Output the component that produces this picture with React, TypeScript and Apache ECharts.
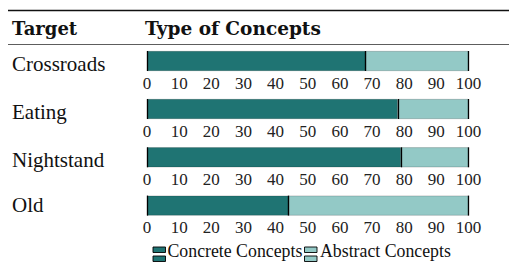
import React, { useEffect, useRef } from "react";
import * as echarts from "echarts";

const targets = ["Crossroads", "Eating", "Nightstand", "Old"];
const concrete = [68, 78, 79, 44];
const abstract = [32, 22, 21, 56];
const seriesNames = ["Concrete Concepts", "Abstract Concepts"];
const headers = ["Target", "Type of Concepts"];

const DARK = "#1f7473";
const LIGHT = "#93c9c6";
const SERIF = "Liberation Serif";

const gridTops = [51, 99, 147.3, 195.6];
const labelYs = [63.5, 111.5, 160.3, 205.3];

export default function App() {
  const ref = useRef<HTMLDivElement>(null);
  useEffect(() => {
    if (!ref.current) return;
    const chart = echarts.init(ref.current, undefined, { renderer: "svg" });
    const grids: any[] = [];
    const xAxes: any[] = [];
    const yAxes: any[] = [];
    const series: any[] = [];
    targets.forEach((t, i) => {
      grids.push({ left: 147, width: 321.5, top: gridTops[i], height: 20 });
      xAxes.push({
        gridIndex: i,
        type: "value",
        min: 0,
        max: 100,
        interval: 10,
        axisLine: { show: false },
        axisTick: { show: false },
        splitLine: { show: false },
        axisLabel: { margin: 3.5, fontSize: 17, fontFamily: SERIF, color: "#222" },
      });
      yAxes.push({
        gridIndex: i,
        type: "category",
        data: [t],
        axisLine: { show: false },
        axisTick: { show: false },
        axisLabel: { show: false },
      });
      series.push({
        type: "bar",
        name: seriesNames[0],
        xAxisIndex: i,
        yAxisIndex: i,
        stack: "s" + i,
        barWidth: "100%",
        data: [concrete[i]],
        itemStyle: { color: DARK, borderColor: "rgba(0,0,0,0.3)", borderWidth: 0.6 },
        markLine: {
          silent: true,
          symbol: "none",
          label: { show: false },
          lineStyle: { color: "#000", width: 1.3, type: "solid" },
          data: [{ xAxis: 0 }, { xAxis: concrete[i] }, { xAxis: 100 }],
        },
      });
      series.push({
        type: "bar",
        name: seriesNames[1],
        xAxisIndex: i,
        yAxisIndex: i,
        stack: "s" + i,
        barWidth: "100%",
        data: [abstract[i]],
        itemStyle: { color: LIGHT, borderColor: "rgba(0,0,0,0.3)", borderWidth: 0.6 },
      });
    });

    const graphic: any[] = [
      { type: "line", shape: { x1: 8, y1: 10.5, x2: 509, y2: 10.5 }, style: { stroke: "#111", lineWidth: 1.3 } },
      { type: "line", shape: { x1: 8, y1: 44.5, x2: 509, y2: 44.5 }, style: { stroke: "#333", lineWidth: 0.8 } },
      {
        type: "text",
        x: 12,
        y: 28,
        style: { text: headers[0], fontFamily: "DejaVu Serif", fontWeight: "bold", fontSize: 18, fill: "#111", verticalAlign: "middle" },
      },
      {
        type: "text",
        x: 145,
        y: 28,
        style: { text: headers[1], fontFamily: "DejaVu Serif", fontWeight: "bold", fontSize: 18.5, fill: "#111", verticalAlign: "middle" },
      },
    ];
    targets.forEach((t, i) => {
      graphic.push({
        type: "text",
        x: 12,
        y: labelYs[i],
        style: { text: t, fontFamily: SERIF, fontSize: 21, fill: "#111", verticalAlign: "middle" },
      });
    });
    const legendItems = [
      { x: 153, color: DARK, name: seriesNames[0], tx: 167.5 },
      { x: 304.5, color: LIGHT, name: seriesNames[1], tx: 320 },
    ];
    legendItems.forEach((it) => {
      graphic.push({ type: "rect", shape: { x: it.x, y: 247, width: 12.5, height: 5.5 }, style: { fill: it.color, stroke: "#000", lineWidth: 0.9 } });
      graphic.push({ type: "rect", shape: { x: it.x, y: 256, width: 12.5, height: 5.5 }, style: { fill: it.color, stroke: "#000", lineWidth: 0.9 } });
      graphic.push({
        type: "text",
        x: it.tx,
        y: 250.5,
        style: { text: it.name, fontFamily: SERIF, fontSize: 17.8, fill: "#111", verticalAlign: "middle" },
      });
    });

    chart.setOption({
      animation: false,
      grid: grids,
      xAxis: xAxes,
      yAxis: yAxes,
      series,
      graphic,
    });
    return () => chart.dispose();
  }, []);
  return <div ref={ref} style={{ position: "fixed", left: 0, top: 0, width: 509, height: 269, background: "#fff" }} />;
}
